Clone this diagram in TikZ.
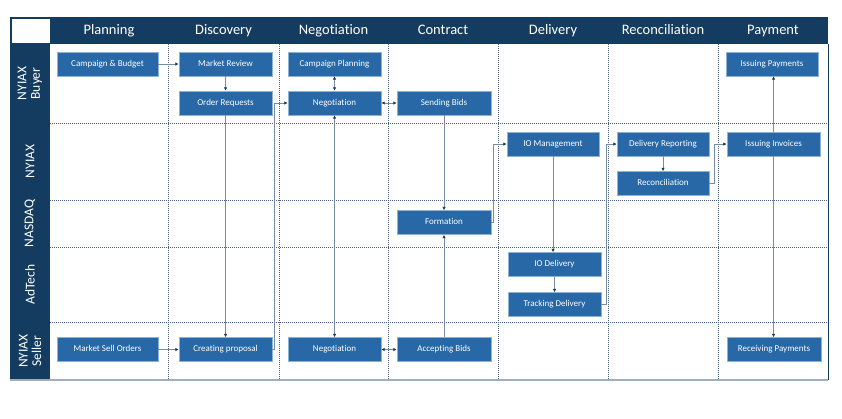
\documentclass[tikz,border=0pt]{standalone}
\usepackage{fontspec}
\setmainfont{Carlito}[Ligatures=NoCommon]
\usetikzlibrary{arrows.meta}
\definecolor{navy}{RGB}{20,60,96}
\definecolor{boxblue}{RGB}{40,104,166}
\definecolor{boxline}{RGB}{140,178,214}
\definecolor{wire}{RGB}{118,140,166}
\definecolor{sepcol}{RGB}{70,95,128}
\tikzset{
 box/.style={draw=boxline,fill=boxblue,text=white,minimum width=93pt,minimum height=24pt,inner sep=0pt,text height=6.5pt,text depth=2pt,font=\fontsize{9}{10}\selectfont},
 lane/.style={text=white,rotate=90,align=center,font=\fontsize{13.5}{13.5}\selectfont},
 phase/.style={text=white,text height=10pt,text depth=3pt,font=\fontsize{14.5}{16}\selectfont},
 sepline/.style={sepcol,line width=.6pt,dash pattern=on .8pt off 1.2pt},
 link/.style={wire,line width=1pt,->},
 >={Latex[length=3.5pt,width=3.5pt,color=navy]}
}
\begin{document}
\begin{tikzpicture}[x=1pt,y=-1pt]
\useasboundingbox (0,0) rectangle (842,418);
% frame
\fill[navy] (10,17) rectangle (828,44); \fill[navy] (10,44) rectangle (50,380);
\fill[white] (11.5,18.5) rectangle (50,43);
\draw[navy,line width=1pt] (828,44)--(828,380); \draw[wire!70,line width=1.2pt] (10,380)--(828,380);
\foreach \x in {168,279,388,498,608,718} \draw[sepline] (\x,44)--(\x,380);
\foreach \y in {123,200,247,322} \draw[sepline] (50,\y)--(828,\y);
\foreach \t/\x in {Planning/109,Discovery/223.5,Negotiation/333.5,Contract/443,Delivery/553,Reconciliation/663,Payment/773}
  \node[phase] (ph-\t) at (\x,30.5) {\t};
\node[lane] (l1) at (30,83.5) {NYIAX\\Buyer}; \node[lane] (l2) at (30,161.5) {NYIAX};
\node[lane] (l3) at (30,223.5) {NASDAQ}; \node[lane] (l4) at (30,284.5) {AdTech};
\node[lane] (l5) at (30,351) {NYIAX\\Seller};
% boxes
\node[box,minimum width=101pt] (cb) at (107.5,64) {Campaign \& Budget};
\node[box] (mr) at (225.5,64) {Market Review}; \node[box] (orq) at (225.5,103) {Order Requests};
\node[box] (cp) at (334.5,64) {Campaign Planning}; \node[box] (negb) at (334.5,103) {Negotiation};
\node[box,minimum width=94pt] (sb) at (444,103) {Sending Bids};
\node[box,minimum width=92pt] (ip) at (772,64) {Issuing Payments};
\node[box,minimum width=92pt] (iom) at (553,144) {IO Management};
\node[box,minimum width=92pt] (dr) at (663,144) {Delivery Reporting};
\node[box,minimum width=92pt] (rec) at (663,183.5) {Reconciliation};
\node[box] (ii) at (773.5,144) {Issuing Invoices};
\node[box,minimum width=94pt] (form) at (444,222.5) {Formation};
\node[box] (iod) at (554.5,264.5) {IO Delivery}; \node[box] (td) at (554.5,304.5) {Tracking Delivery};
\node[box,minimum width=101pt] (mso) at (107.5,349.5) {Market Sell Orders};
\node[box] (crp) at (225.5,349.5) {Creating proposal}; \node[box] (negs) at (334.5,349.5) {Negotiation};
\node[box,minimum width=94pt] (ab) at (444,349.5) {Accepting Bids};
\node[box,minimum width=94pt] (rp) at (774,349.5) {Receiving Payments};
% connectors
\draw[link] (cb)--(mr); \draw[link] (mr)--(orq); \draw[link] (orq)--(crp); \draw[link] (mso)--(crp);
\draw[link] (crp.east)--++(2,0)|-(negb.west);
\draw[link,<->] (cp)--(negb); \draw[link,<->] (negb)--(negs);
\draw[link,<->] (negb)--(sb); \draw[link,<->] (negs)--(ab);
\draw[link] (sb)--(form); \draw[link] (ab)--(form);
\draw[link] (form.east)--++(2,0)|-(iom.west);
\draw[link] (iom.south)--(iom.south|-iod.north); \draw[link] (iod)--(td);
\draw[link] (td.east)--++(5,0)|-(dr.west);
\draw[link] (dr)--(rec);
\draw[link] (rec.east)--++(5,0)|-(ii.west);
\draw[link] (ii.north)--(ii.north|-ip.south); \draw[link] (ii.south)--(ii.south|-rp.north);
\end{tikzpicture}
\end{document}
